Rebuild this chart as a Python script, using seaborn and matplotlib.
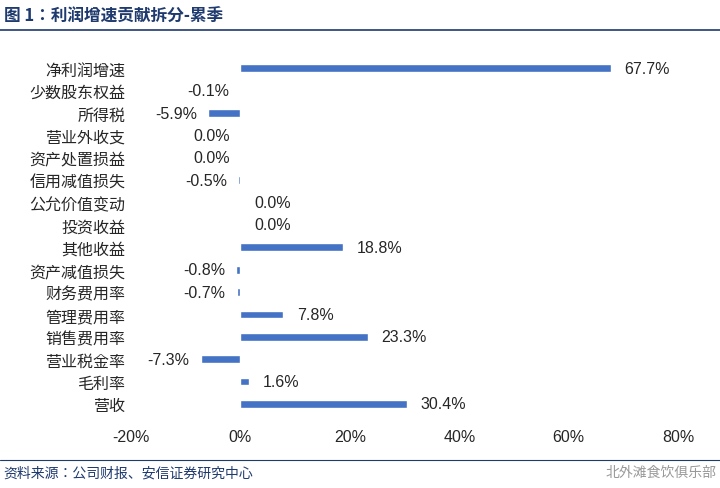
import matplotlib
matplotlib.use("Agg")
import matplotlib.pyplot as plt
import seaborn as sns
import pandas as pd

categories = ["净利润增速","少数股东权益","所得税","营业外收支","资产处置损益","信用减值损失",
              "公允价值变动","投资收益","其他收益","资产减值损失","财务费用率","管理费用率",
              "销售费用率","营业税金率","毛利率","营收"]
values = [67.7,-0.1,-5.9,-0.001,-0.001,-0.5,0.001,0.001,18.8,-0.8,-0.7,7.8,23.3,-7.3,1.6,30.4]
xticks = [-20,0,20,40,60,80]

CJK = ["Noto Sans CJK SC","Noto Sans CJK JP","Noto Sans CJK TC","DejaVu Sans"]
sns.set_theme(style="white", font=CJK[0], rc={"font.family": CJK, "font.sans-serif": CJK})
fig = plt.figure(figsize=(7.2,4.89), dpi=100)
ax = fig.add_axes([0.182,0.149,0.76,0.732])
df = pd.DataFrame({"cat":categories,"val":values})
sns.barplot(data=df, x="val", y="cat", orient="h", color="#4472C4", width=0.35, ax=ax, saturation=1)
ax.set_xlim(-20,80)
ax.set_ylim(15.5,-0.5)
ax.set_xticks(xticks)
ax.set_xticklabels([f"{t}%" for t in xticks], fontsize=11.5, fontfamily="Liberation Sans")
for lab in ax.get_yticklabels():
    lab.set_fontfamily(CJK)
    lab.set_fontsize(11.5)
ax.tick_params(axis="y", length=0, pad=4)
ax.tick_params(axis="x", length=0, pad=10)
ax.set_xlabel(""); ax.set_ylabel("")
for s in ax.spines.values():
    s.set_visible(False)
for i,v in enumerate(values):
    txt = "0.0%" if round(v,1)==0 else f"{v:.1f}%"
    if v < 0:
        ax.text(v-2, i, txt, ha="right", va="center", fontsize=11.5, fontfamily="Liberation Sans")
    else:
        ax.text(v+2.5, i, txt, ha="left", va="center", fontsize=11.5, fontfamily="Liberation Sans")

fig.text(0.005,0.965,"图 1：利润增速贡献拆分-累季", fontsize=12, fontweight="bold", color="#1F3A6E", va="center", fontfamily=CJK)
fig.add_artist(plt.Line2D([0,1],[0.937,0.937], color="#1F3A6E", lw=1.2))
fig.add_artist(plt.Line2D([0,1],[0.057,0.057], color="#1F3A6E", lw=0.8))
fig.text(0.005,0.032,"资料来源：公司财报、安信证券研究中心", fontsize=10, style="italic", color="#1F3A6E", va="center", fontfamily=CJK)
fig.text(0.995,0.032,"北外滩食饮俱乐部", fontsize=10, color="#999999", ha="right", va="center", fontfamily=CJK)
fig.savefig("out.png", dpi=100)
